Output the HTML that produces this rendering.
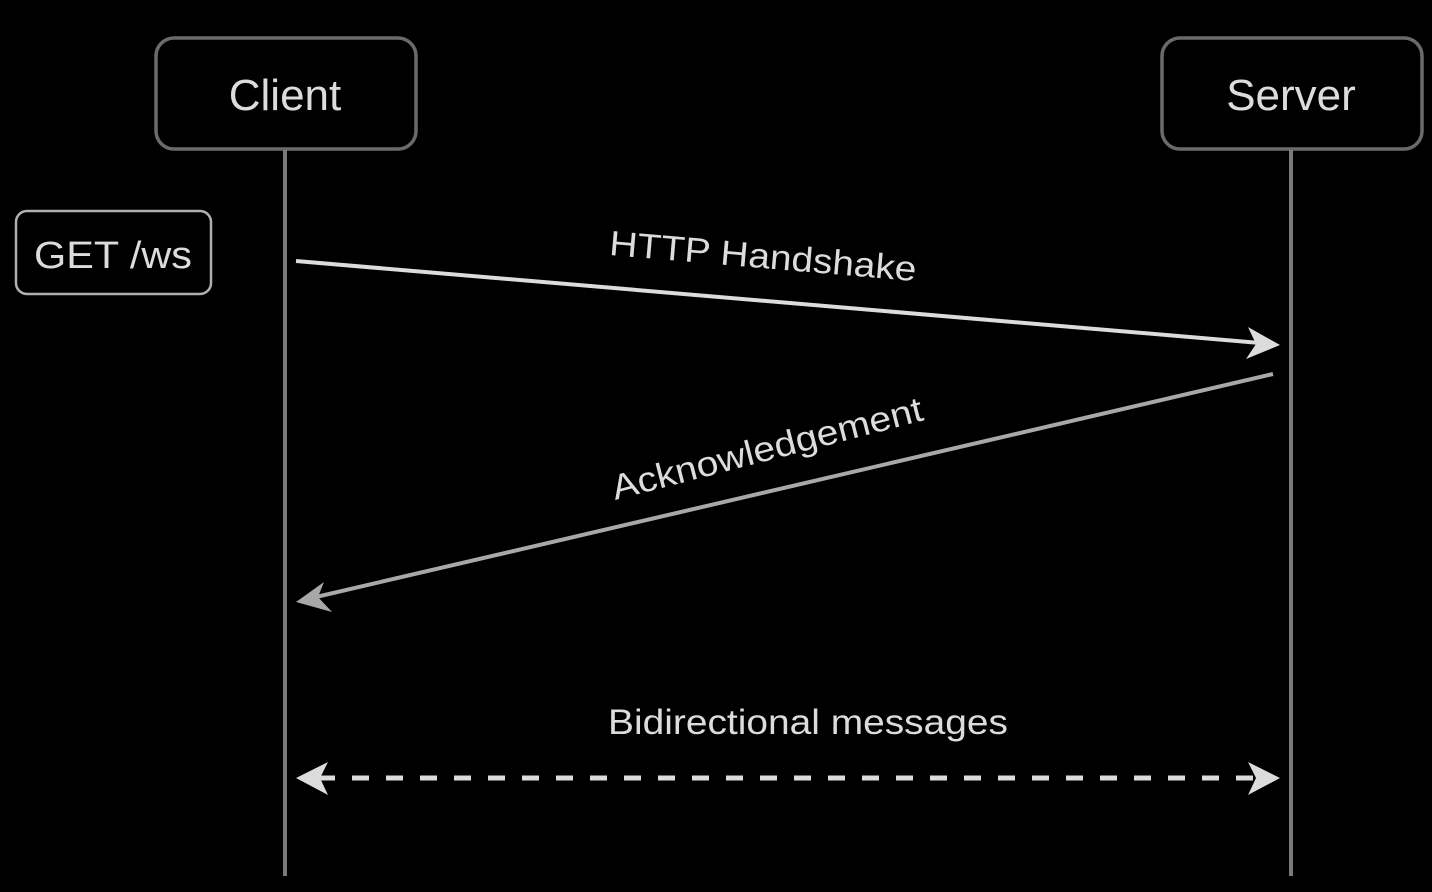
<!DOCTYPE html>
<html><head><style>
html,body{margin:0;padding:0;background:#000;}
svg{display:block;}
text{font-family:"Liberation Sans",sans-serif;fill:#dcdcdc;}
</style></head><body>
<svg width="1432" height="892" viewBox="0 0 1432 892" xmlns="http://www.w3.org/2000/svg">
<rect width="1432" height="892" fill="#000"/>
<rect x="156" y="38" width="260" height="111" rx="18" fill="#000" stroke="#6a6a6a" stroke-width="3.5"/>
<rect x="1162" y="38" width="260" height="111" rx="18" fill="#000" stroke="#6a6a6a" stroke-width="3.5"/>
<text x="285" y="110" font-size="44" text-anchor="middle">Client</text>
<text x="1291" y="110" font-size="44" text-anchor="middle">Server</text>
<line x1="285" y1="150" x2="285" y2="876" stroke="#7a7a7a" stroke-width="4"/>
<line x1="1291" y1="150" x2="1291" y2="876" stroke="#7a7a7a" stroke-width="4"/>
<rect x="16" y="211" width="195" height="83" rx="11" fill="#000" stroke="#b0b0b0" stroke-width="2.5"/>
<text x="113" y="268" font-size="38" text-anchor="middle" textLength="158" lengthAdjust="spacingAndGlyphs">GET /ws</text>
<line x1="296" y1="261" x2="1260" y2="343" stroke="#dcdcdc" stroke-width="4"/>
<polygon points="1280,345 1248,327 1256,344 1246,359" fill="#dcdcdc"/>
<text transform="translate(762,268) rotate(4.9)" font-size="35" text-anchor="middle" textLength="308" lengthAdjust="spacingAndGlyphs">HTTP Handshake</text>
<line x1="1273" y1="374" x2="316" y2="597" stroke="#a8a8a8" stroke-width="4"/>
<polygon points="296,602 324,582 318,597 332,612" fill="#a8a8a8"/>
<text transform="translate(770,460) rotate(-14.5)" font-size="35" text-anchor="middle" textLength="320" lengthAdjust="spacingAndGlyphs">Acknowledgement</text>
<line x1="318" y1="778" x2="1262" y2="778" stroke="#dcdcdc" stroke-width="5" stroke-dasharray="17,17"/>
<polygon points="296,778 328,762 320,778 328,795" fill="#dcdcdc"/>
<polygon points="1280,778 1248,762 1256,778 1248,795" fill="#dcdcdc"/>
<text x="808" y="734" font-size="35" text-anchor="middle" textLength="400" lengthAdjust="spacingAndGlyphs">Bidirectional messages</text>
</svg>
</body></html>
